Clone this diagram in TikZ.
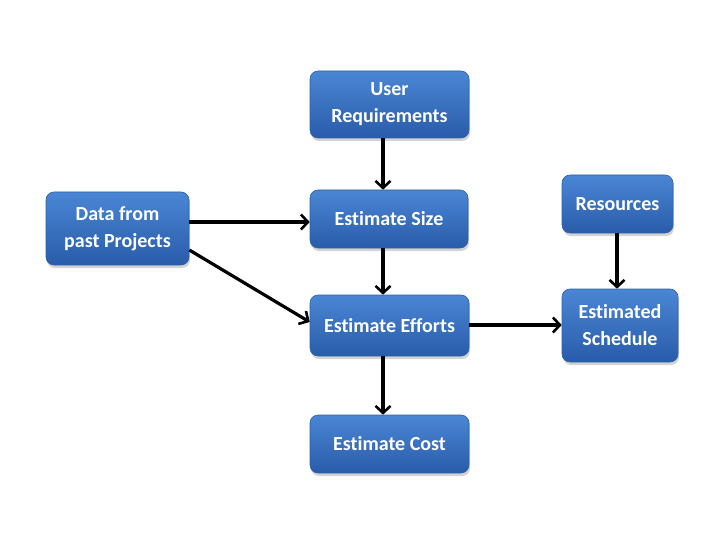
\documentclass[tikz,border=0pt]{standalone}
\usepackage{fontspec}
\setmainfont[Ligatures=NoCommon]{Carlito}
\usetikzlibrary{shadows,arrows.meta}
\definecolor{boxtop}{HTML}{4A86D4}
\definecolor{boxbot}{HTML}{295CAA}
\definecolor{boxedge}{HTML}{2D62A8}
\tikzset{
  blk/.style={rounded corners=8pt, top color=boxtop, bottom color=boxbot, draw=boxedge, line width=0.6pt,
    text=white, font=\bfseries\fontsize{20}{27}\selectfont, align=center, inner sep=0pt,
    drop shadow={opacity=0.35, shadow xshift=1pt, shadow yshift=-3pt}},
  conn/.style={line width=3.2pt, black, -{Straight Barb[length=7pt,width=15pt,line width=2.6pt]}}
}
\begin{document}
\begin{tikzpicture}[x=1pt,y=-1pt]
\useasboundingbox (0,0) rectangle (720,540);
\node[blk, minimum width=159pt, minimum height=67pt] (ur) at (389.5,104.5) {User\\Requirements};
\node[blk, minimum width=158pt, minimum height=58pt] (es) at (389,219) {Estimate Size};
\node[blk, minimum width=143pt, minimum height=73pt] (dp) at (117.5,228.5) {Data from\\past Projects};
\node[blk, minimum width=159pt, minimum height=61pt] (ee) at (389.5,325.5) {Estimate Efforts};
\node[blk, minimum width=159pt, minimum height=58pt] (ec) at (389.5,444) {Estimate Cost};
\node[blk, minimum width=111pt, minimum height=58pt] (rs) at (617.5,204) {Resources};
\node[blk, minimum width=116pt, minimum height=73pt] (sc) at (620,325.5) {Estimated\\Schedule};
\draw[conn] (ur.south -| 383,0) -- (es.north -| 383,0);
\draw[conn] (es.south -| 383,0) -- (ee.north -| 383,0);
\draw[conn] (ee.south -| 383,0) -- (ec.north -| 383,0);
\draw[conn] (dp.east |- 0,222) -- (es.west |- 0,222);
\draw[conn] (dp.east |- 0,250) -- (ee.west |- 0,322);
\draw[conn] (ee.east |- 0,325) -- (sc.west |- 0,325);
\draw[conn] (rs.south -| 617,0) -- (sc.north -| 617,0);
\end{tikzpicture}
\end{document}
